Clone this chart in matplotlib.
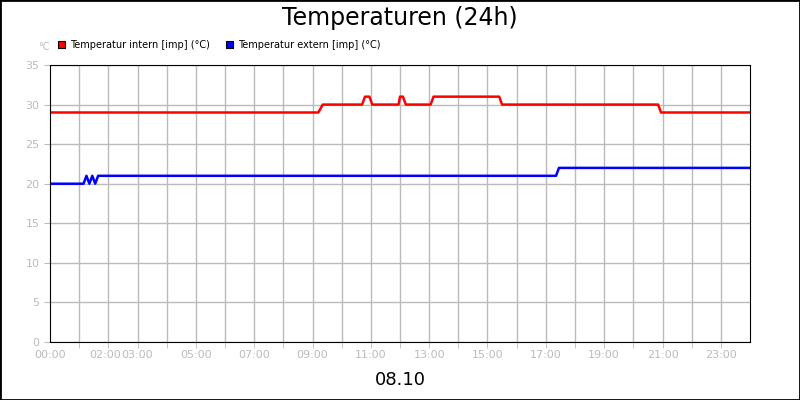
import matplotlib
matplotlib.use("Agg")
import matplotlib.pyplot as plt
from matplotlib.patches import Rectangle

# hours since 00:00 and values
intern_t = [0, 9.2, 9.35, 10.7, 10.8, 10.95, 11.05, 11.95, 12.0, 12.1, 12.2, 13.05, 13.15,
            15.4, 15.5, 20.85, 20.95, 24]
intern_v = [29, 29, 30, 30, 31, 31, 30, 30, 31, 31, 30, 30, 31, 31, 30, 30, 29, 29]
extern_t = [0, 1.15, 1.25, 1.35, 1.45, 1.55, 1.65, 17.35, 17.45, 24]
extern_v = [20, 20, 21, 20, 21, 20, 21, 21, 22, 22]
tick_pos = [0, 1.9, 3, 5, 7, 9, 11, 13, 15, 17, 19, 21, 23]
tick_lab = ["00:00", "02:00", "03:00", "05:00", "07:00", "09:00", "11:00", "13:00",
            "15:00", "17:00", "19:00", "21:00", "23:00"]

fig = plt.figure(figsize=(8, 4), dpi=100)
fig.patches.append(Rectangle((0, 0), 1, 1, transform=fig.transFigure, fill=False,
                             edgecolor="black", linewidth=2))
ax = fig.add_axes([50 / 800, 58 / 400, 700 / 800, 277 / 400])
ax.plot(intern_t, intern_v, color="#ff0000", lw=1.8)
ax.plot(extern_t, extern_v, color="#0000ff", lw=1.8)
ax.set_xlim(0, 24)
ax.set_ylim(0, 35)
ax.set_yticks(range(0, 36, 5))
ax.set_xticks(tick_pos, tick_lab)
ax.set_xticks([h for h in range(1, 24)], minor=True)
ax.grid(False, axis="x", which="major")
ax.grid(True, which="minor", axis="x", color="#bbbbbb", lw=1)
ax.grid(True, axis="y", color="#bbbbbb", lw=1)
ax.tick_params(which="both", colors="#bbbbbb", labelcolor="#bbbbbb", labelsize=8, length=4)
ax.tick_params(axis="x", which="major", length=0, pad=6)
ax.xaxis.set_minor_locator(matplotlib.ticker.FixedLocator(range(1, 24)))
ax.xaxis.remove_overlapping_locs = False
for s in ax.spines.values():
    s.set_color("black")

fig.text(0.5, 1 - 18 / 400, "Temperaturen (24h)", ha="center", va="center", fontsize=17)
fig.text(0.5, 1 - 380 / 400, "08.10", ha="center", va="center", fontsize=13)
fig.text(38 / 800, 1 - 47 / 400, "°C", fontsize=7, color="#bbbbbb", va="center")
for x0, col, lab in [(58, "#ff0000", "Temperatur intern [imp] (°C)"),
                     (226, "#0000ff", "Temperatur extern [imp] (°C)")]:
    fig.patches.append(Rectangle((x0 / 800, 1 - 48 / 400), 7 / 800, 7 / 400,
                                 transform=fig.transFigure, facecolor=col,
                                 edgecolor="black", lw=0.8))
    fig.text((x0 + 12) / 800, 1 - 44.5 / 400, lab, fontsize=7, va="center")

fig.savefig("out.png", dpi=100)
